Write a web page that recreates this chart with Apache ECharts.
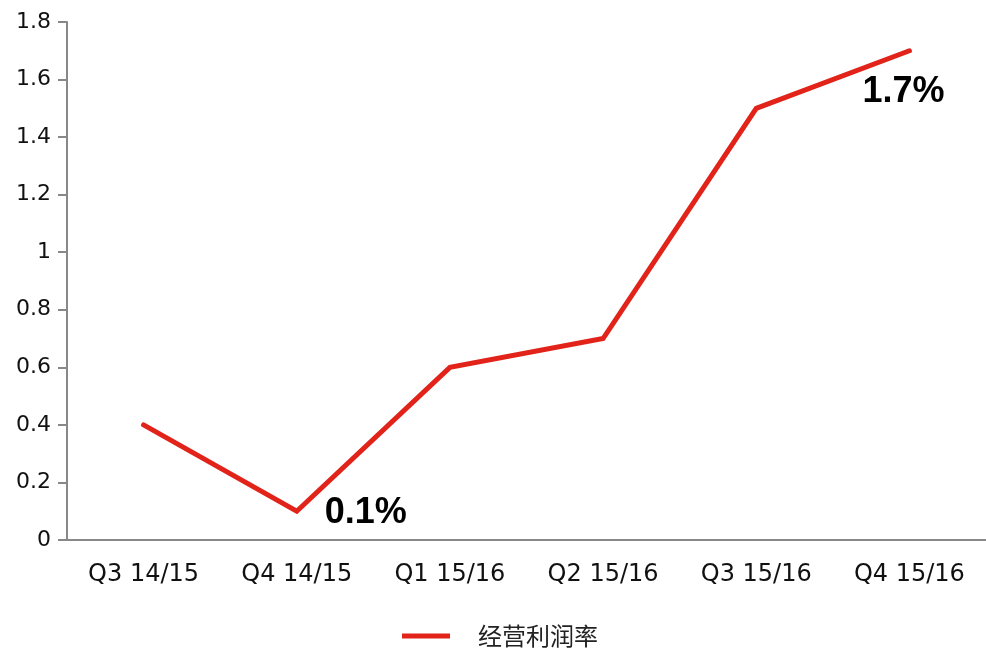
<!DOCTYPE html>
<html>
<head>
<meta charset="utf-8">
<script src="https://cdn.jsdelivr.net/npm/echarts@6/dist/echarts.min.js"></script>
<style>
html, body { margin: 0; padding: 0; background: #fff; }
#chart { width: 986px; height: 652px; }
</style>
</head>
<body>
<div id="chart"></div>
<script>
var quarters = ['Q3 14/15', 'Q4 14/15', 'Q1 15/16', 'Q2 15/16', 'Q3 15/16', 'Q4 15/16'];
var margin = [0.4, 0.1, 0.6, 0.7, 1.5, 1.7];
var seriesName = '经营利润率';
// which points get a big label, and where
var labelled = { 1: 'right', 5: 'bottom' };

var chart = echarts.init(document.getElementById('chart'));

var points = margin.map(function (v, i) {
    var item = { value: v };
    if (labelled[i]) {
        item.label = {
            show: true,
            position: labelled[i],
            distance: labelled[i] === 'right' ? 28 : 23,
            offset: labelled[i] === 'bottom' ? [-6, 0] : [0, 2],
            formatter: '{c}%',
            fontFamily: 'Liberation Sans, Arial, sans-serif',
            fontSize: 36,
            fontWeight: 'bold',
            color: '#000'
        };
    }
    return item;
});

chart.setOption({
    animation: false,
    grid: {
        left: 67,
        right: -1,
        top: 22,
        bottom: 112
    },
    legend: {
        bottom: 4,
        left: 402,
        padding: 0,
        data: [seriesName],
        icon: 'rect',
        itemWidth: 48,
        itemHeight: 5,
        textStyle: {
            fontSize: 24,
            color: '#222',
            padding: [0, 0, 0, 23],
            fontFamily: 'Noto Sans CJK SC'
        }
    },
    xAxis: {
        type: 'category',
        data: quarters,
        boundaryGap: true,
        axisLine: { lineStyle: { color: '#888', width: 2 } },
        axisTick: { length: 9, lineStyle: { color: '#888', width: 2 } },
        axisLabel: {
            fontSize: 24,
            color: '#111',
            margin: 23,
            fontFamily: 'DejaVu Sans'
        }
    },
    yAxis: {
        type: 'value',
        min: 0,
        max: 1.8,
        interval: 0.2,
        axisLine: { show: true, lineStyle: { color: '#888', width: 2 } },
        axisTick: { show: true, length: 9, lineStyle: { color: '#888', width: 2 } },
        splitLine: { show: false },
        axisLabel: {
            fontSize: 22,
            color: '#111',
            margin: 16,
            fontFamily: 'DejaVu Sans',
            formatter: function (v) { return String(Math.round(v * 10) / 10); }
        }
    },
    series: [{
        name: seriesName,
        type: 'line',
        data: points,
        symbol: 'circle',
        symbolSize: 0,
        color: '#e2231a',
        lineStyle: { width: 5, color: '#e2231a', cap: 'round', join: 'miter' }
    }]
});
</script>
</body>
</html>
